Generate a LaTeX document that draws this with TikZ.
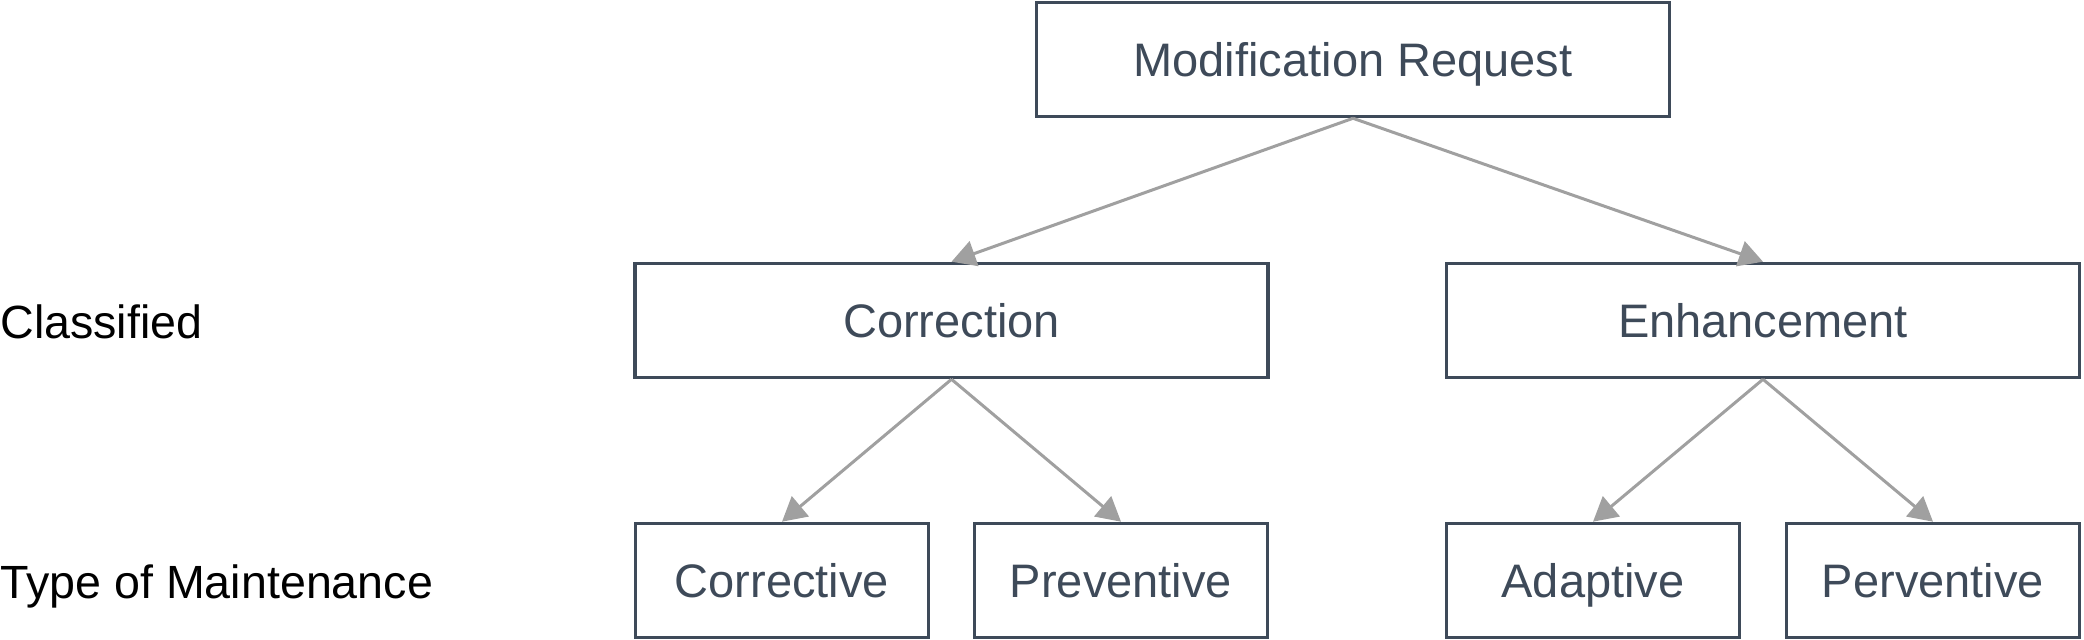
\documentclass[tikz,border=0pt]{standalone}
\usepackage{fontspec}
\setmainfont{Liberation Sans}
\usepackage{xcolor}
\usepackage{tikz}
\usetikzlibrary{arrows.meta}
\definecolor{boxline}{HTML}{3E4A59}
\definecolor{arrowgray}{HTML}{A0A0A0}

\begin{document}
\begin{tikzpicture}[
    x=0.5pt,y=-0.5pt,>={Triangle[length=12pt,width=13pt]},
    maint node/.style={draw=boxline,line width=1.8pt,text=boxline,
      minimum height=57pt,inner sep=0pt,text height=16.8pt,text depth=0pt,
      font=\fontsize{23.5}{23.5}\selectfont},
    wide node/.style={maint node,minimum width=316.5pt},
    narrow node/.style={maint node,minimum width=146.5pt},
    row label/.style={anchor=west,inner sep=0pt,text height=16.8pt,
      text depth=0pt,font=\fontsize{23.3}{23.3}\selectfont},
    maint arrow/.style={->,draw=arrowgray,line width=1.5pt}
  ]
    \useasboundingbox (0,0) rectangle (2084,640);
    \node[row label] (classified) at (0,322) {Classified};
    \node[row label] (typelabel) at (0,582) {Type of Maintenance};
    \node[wide node] (request) at (1353,59.5) {Modification Request};
    \node[wide node] (correction) at (951.5,320.5) {Correction};
    \node[wide node] (enhancement) at (1763,320.5) {Enhancement};
    \node[narrow node] (corrective) at (782,580.5) {Corrective};
    \node[narrow node] (preventive) at (1121,580.5) {Preventive};
    \node[narrow node] (adaptive) at (1593,580.5) {Adaptive};
    \node[narrow node] (perventive) at (1933,580.5) {Perventive};
    \draw[maint arrow] (request.south) -- (correction.north);
    \draw[maint arrow] (request.south) -- (enhancement.north);
    \draw[maint arrow] (correction.south) -- (corrective.north);
    \draw[maint arrow] (correction.south) -- (preventive.north);
    \draw[maint arrow] (enhancement.south) -- (adaptive.north);
    \draw[maint arrow] (enhancement.south) -- (perventive.north);
  \end{tikzpicture}
\end{document}
